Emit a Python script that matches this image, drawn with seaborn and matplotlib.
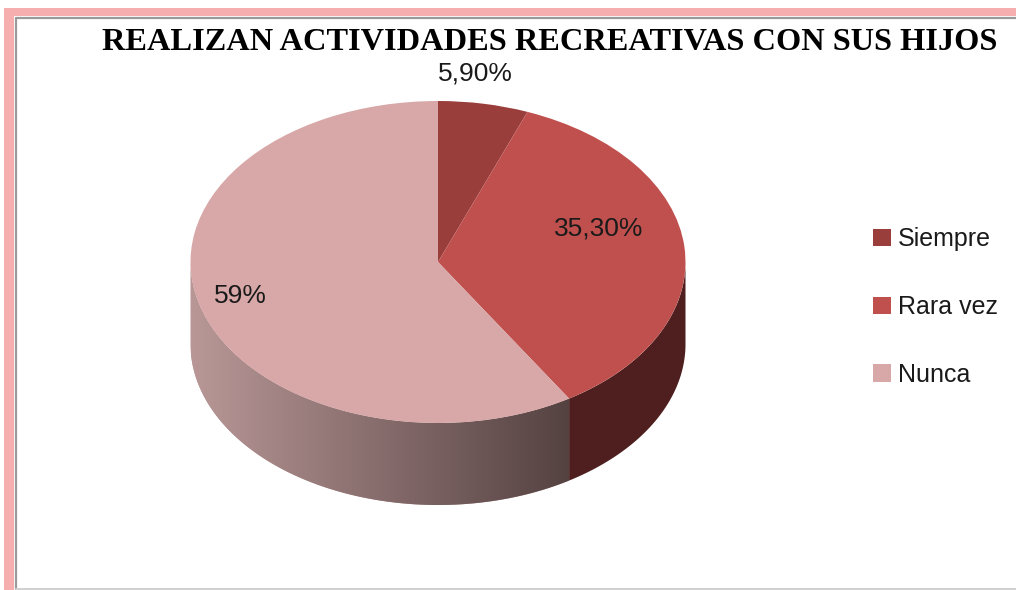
import numpy as np
import matplotlib
matplotlib.use("Agg")
import matplotlib.pyplot as plt
import seaborn as sns
from matplotlib.patches import Polygon, Rectangle
from matplotlib.lines import Line2D
from matplotlib.colors import LinearSegmentedColormap

# ---------------- data ----------------
categories = ["Siempre", "Rara vez", "Nunca"]
values = [5.9, 35.3, 59.0]
pct_labels = ["5,90%", "35,30%", "59%"]
title = "REALIZAN ACTIVIDADES RECREATIVAS CON SUS HIJOS"

# ---------------- style ----------------
top_colors = ["#9a3e3c", "#c0504e", "#d8a7a7"]
side_colors = [("#5e2322", "#5e2322"), ("#4e1f1e", "#4e1f1e"), ("#b99797", "#544241")]

sns.set_theme(style="white")
plt.rcParams["font.family"] = ["Liberation Sans", "DejaVu Sans"]

W, H = 1016, 590
fig = plt.figure(figsize=(W / 100, H / 100), dpi=100)
fig.patch.set_facecolor("white")
ax = fig.add_axes([0, 0, 1, 1])

# pie geometry in pixels (top face ellipse)
cx, cy, rx, ry = 438, 262, 247.5, 161
depth = 82 / ry

wedges, _ = ax.pie(values, colors=top_colors, startangle=90, counterclock=False,
                   radius=1, wedgeprops=dict(linewidth=0, zorder=3, antialiased=True))

# side walls (front half only)
for w, sc in zip(wedges, side_colors):
    t1, t2 = w.theta1, w.theta2
    for k in (-1, 0, 1):
        a = max(t1, 180 + 360 * k)
        b = min(t2, 360 + 360 * k)
        if b <= a:
            continue
        t = np.radians(np.linspace(a, b, 300))
        xs, ys = np.cos(t), np.sin(t)
        verts = np.concatenate([np.c_[xs, ys], np.c_[xs[::-1], ys[::-1] - depth]])
        poly = Polygon(verts, closed=True, facecolor=sc[0], edgecolor="none", zorder=1)
        ax.add_patch(poly)
        if sc[0] != sc[1]:
            cmap = LinearSegmentedColormap.from_list("side", [sc[0], sc[1]])
            grad = np.linspace(0, 1, 256)[None, :]
            im = ax.imshow(grad, cmap=cmap, aspect="auto", interpolation="bilinear",
                           extent=(xs.min(), xs.max(), ys.min() - depth, 0.05), zorder=2)
            im.set_clip_path(poly)

# percentage labels
label_pos = [(0.15, 1.17), (0.65, 0.21), (-0.80, -0.21)]
for (lx, ly), s in zip(label_pos, pct_labels):
    ax.text(lx, ly, s, ha="center", va="center", fontsize=19, color="#1a1a1a", zorder=5)

ax.set_aspect("auto")
ax.set_xlim(-cx / rx, (W - cx) / rx)
ax.set_ylim((cy - H) / ry, cy / ry)
ax.axis("off")

# legend
ax.legend(wedges, categories, loc="center left", bbox_to_anchor=(873 / W, 1 - 307 / H),
          bbox_transform=fig.transFigure, frameon=False, fontsize=18,
          handlelength=0.7, handleheight=0.7, handletextpad=0.3, labelspacing=1.75,
          borderpad=0, borderaxespad=0, labelcolor="#1a1a1a")

# title
fig.text(550 / W, 1 - 42 / H, title, ha="center", va="center", fontsize=23.3,
         fontweight="bold", family=["Liberation Serif", "DejaVu Serif"], color="black")

# frame decorations
pink = "#f6aeae"
fig.add_artist(Rectangle((4 / W, 0), 10 / W, 1 - 8 / H, transform=fig.transFigure,
                         facecolor=pink, edgecolor="none"))
fig.add_artist(Rectangle((4 / W, 1 - 16 / H), 1 - 4 / W, 8 / H, transform=fig.transFigure,
                         facecolor=pink, edgecolor="none"))
fig.add_artist(Line2D([16 / W, 16 / W], [0, 1 - 18 / H], transform=fig.transFigure,
                      color="#9a9a9a", lw=1.6))
fig.add_artist(Line2D([16 / W, 1], [1 - 18 / H, 1 - 18 / H], transform=fig.transFigure,
                      color="#9a9a9a", lw=1.6))
fig.add_artist(Line2D([16 / W, 1], [1 / H, 1 / H], transform=fig.transFigure,
                      color="#d0d0d0", lw=1.4))

fig.savefig("out.png", dpi=100)
